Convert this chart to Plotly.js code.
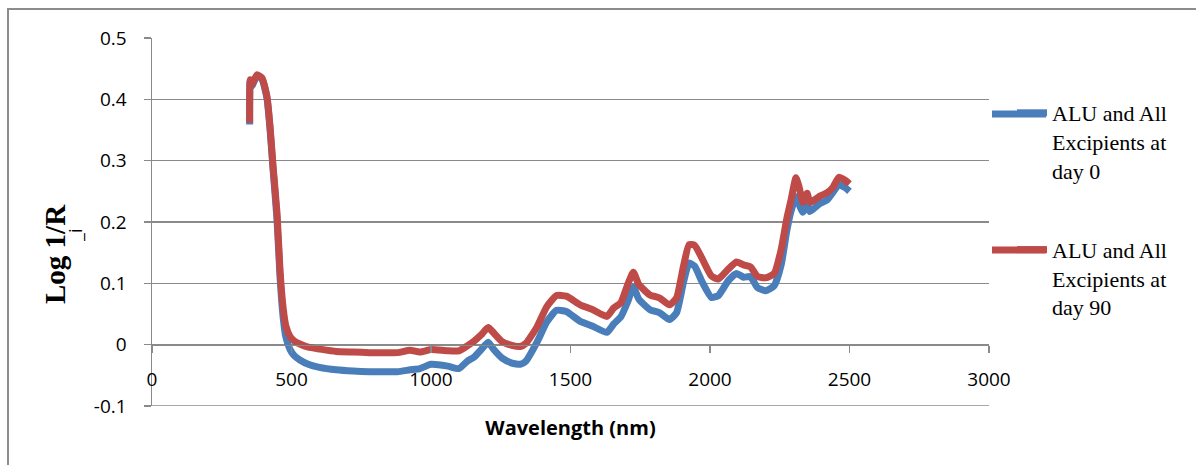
<!DOCTYPE html>
<html>
<head>
<meta charset="utf-8">
<script src="https://cdn.plot.ly/plotly-3.0.1.min.js"></script>
<style>html,body{margin:0;padding:0;background:#fff;}#chart{width:1196px;height:465px;}</style>
</head>
<body>
<div id="chart"></div>
<script>
// Wavelength grid (nm)
const wavelength = [350, 352, 358, 376, 394, 412, 423, 434, 448, 459, 470, 480, 495, 510, 530, 560, 600, 660, 720, 780, 840, 880, 925, 960, 1000, 1060, 1100, 1130, 1155, 1180, 1205, 1225, 1255, 1290, 1320, 1340, 1380, 1415, 1450, 1485, 1535, 1580, 1630, 1655, 1680, 1705, 1725, 1745, 1785, 1820, 1855, 1880, 1905, 1925, 1945, 1970, 2005, 2030, 2065, 2095, 2120, 2145, 2170, 2200, 2230, 2255, 2275, 2290, 2308, 2320, 2333, 2348, 2358, 2390, 2420, 2440, 2462, 2484, 2500];

// ALU and All Excipients at day 0
const day0 = [0.359, 0.430, 0.422, 0.438, 0.433, 0.402, 0.352, 0.285, 0.205, 0.110, 0.045, 0.012, -0.008, -0.018, -0.025, -0.032, -0.037, -0.041, -0.043, -0.044, -0.044, -0.044, -0.041, -0.039, -0.032, -0.035, -0.039, -0.027, -0.020, -0.008, 0.004, -0.008, -0.022, -0.030, -0.032, -0.027, 0.004, 0.037, 0.056, 0.054, 0.038, 0.030, 0.020, 0.034, 0.045, 0.070, 0.094, 0.074, 0.057, 0.052, 0.041, 0.052, 0.102, 0.133, 0.128, 0.104, 0.077, 0.080, 0.104, 0.116, 0.110, 0.111, 0.093, 0.088, 0.096, 0.130, 0.185, 0.217, 0.241, 0.228, 0.216, 0.232, 0.217, 0.229, 0.236, 0.248, 0.261, 0.256, 0.250];

// ALU and All Excipients at day 90
const day90 = [0.362, 0.432, 0.424, 0.440, 0.435, 0.405, 0.356, 0.290, 0.215, 0.120, 0.060, 0.030, 0.013, 0.006, 0.001, -0.004, -0.007, -0.011, -0.012, -0.013, -0.013, -0.013, -0.009, -0.012, -0.008, -0.010, -0.010, -0.002, 0.006, 0.016, 0.028, 0.019, 0.005, -0.001, -0.003, 0.002, 0.029, 0.062, 0.080, 0.079, 0.065, 0.057, 0.046, 0.060, 0.068, 0.098, 0.118, 0.098, 0.081, 0.076, 0.065, 0.076, 0.128, 0.163, 0.162, 0.142, 0.112, 0.107, 0.123, 0.135, 0.130, 0.127, 0.111, 0.109, 0.116, 0.155, 0.205, 0.235, 0.272, 0.256, 0.232, 0.247, 0.232, 0.241, 0.248, 0.256, 0.273, 0.268, 0.262];

const seriesNames = ["ALU and All<br>Excipients at<br>day 0", "ALU and All<br>Excipients at<br>day 90"];
const yTickVals = [-0.1, 0, 0.1, 0.2, 0.3, 0.4, 0.5];
const yTickText = ["-0.1", "0", "0.1", "0.2", "0.3", "0.4", "0.5"];
const xTickVals = [0, 500, 1000, 1500, 2000, 2500, 3000];
const xTickText = ["0", "500", "1000", "1500", "2000", "2500", "3000"];

const BLUE = "#4a7ebb", RED = "#be4b48", GRID = "#8a8a8a";

// plot area in pixels: x 152..989, y 38..406
const W = 1196, H = 465, L = 152, R = 989, T = 38, B = 406;
const px2x = p => (p - L) / (R - L);
const px2y = p => (B - p) / (B - T);

const traces = [
  {x: wavelength, y: day0, name: seriesNames[0], type: "scatter", mode: "lines",
   line: {color: BLUE, width: 7, shape: "spline", smoothing: 0.5}, legendgroup: "a"},
  {x: wavelength, y: day90, name: seriesNames[1], type: "scatter", mode: "lines",
   line: {color: RED, width: 7, shape: "spline", smoothing: 0.5}, legendgroup: "b"}
];

const legY = [114, 250];

const layout = {
  width: W, height: H,
  margin: {l: L, r: W - R, t: T, b: H - B, pad: 0},
  paper_bgcolor: "#fff", plot_bgcolor: "#fff",
  showlegend: true,
  font: {family: "Open Sans, Liberation Sans, sans-serif", color: "#000", size: 19},
  xaxis: {
    range: [0, 3000], tickvals: xTickVals, ticktext: xTickText,
    anchor: "free", position: 1 / 6,
    showgrid: false, zeroline: false,
    showline: true, linecolor: GRID, linewidth: 1.5,
    ticks: "outside", ticklen: 7, tickwidth: 1.5, tickcolor: GRID,
    ticklabelstandoff: 10,
    tickfont: {size: 19, color: "#000"},
    title: {text: "Wavelength (nm)", font: {size: 20, color: "#000", family: "Open Sans, sans-serif", weight: "bold"}, standoff: 30},
    fixedrange: true
  },
  yaxis: {
    range: [-0.1, 0.5], tickvals: yTickVals, ticktext: yTickText,
    showgrid: true, gridcolor: GRID, gridwidth: 1.5,
    zeroline: false,
    showline: true, linecolor: GRID, linewidth: 1.5,
    ticks: "outside", ticklen: 7, tickwidth: 1.5, tickcolor: GRID,
    ticklabelstandoff: 13,
    tickfont: {size: 19, color: "#000"},
    fixedrange: true
  },
  legend: {
    x: px2x(1012), y: px2y(92), xanchor: "left", yanchor: "top",
    valign: "top", tracegroupgap: 48, traceorder: "grouped",
    font: {family: "Liberation Serif, Times New Roman, serif", size: 22, color: "#000"},
    bgcolor: "rgba(0,0,0,0)", borderwidth: 0
  },
  annotations: [
    {text: "Log 1/R", xref: "paper", yref: "paper", x: px2x(55), y: px2y(254),
     xanchor: "center", yanchor: "middle", textangle: -90, showarrow: false,
     font: {family: "Liberation Serif, Times New Roman, serif", size: 29, color: "#000", weight: "bold"}},
    {text: "_i", xref: "paper", yref: "paper", x: px2x(75), y: px2y(236),
     xanchor: "center", yanchor: "middle", textangle: -90, showarrow: false,
     font: {family: "Open Sans, sans-serif", size: 18, color: "#000"}}
  ],
  shapes: [
    {type: "rect", xref: "paper", yref: "paper", x0: px2x(8), x1: px2x(1210), y0: px2y(480), y1: px2y(9),
     line: {color: "#8c8c8c", width: 2}, fillcolor: "rgba(0,0,0,0)", layer: "below"},
    // gridline at the bottom tick (-0.1), which Plotly skips at the range edge
    {type: "line", xref: "paper", yref: "y", x0: 0, x1: 1, y0: yTickVals[0], y1: yTickVals[0],
     line: {color: GRID, width: 1.5}, layer: "below"},
    {type: "line", xref: "paper", yref: "paper", x0: px2x(992), x1: px2x(1046), y0: px2y(legY[0]), y1: px2y(legY[0]),
     line: {color: BLUE, width: 7}},
    {type: "line", xref: "paper", yref: "paper", x0: px2x(992), x1: px2x(1046), y0: px2y(legY[1]), y1: px2y(legY[1]),
     line: {color: RED, width: 7}}
  ]
};

Plotly.newPlot("chart", traces, layout, {displayModeBar: false, staticPlot: true});
</script>
</body>
</html>
